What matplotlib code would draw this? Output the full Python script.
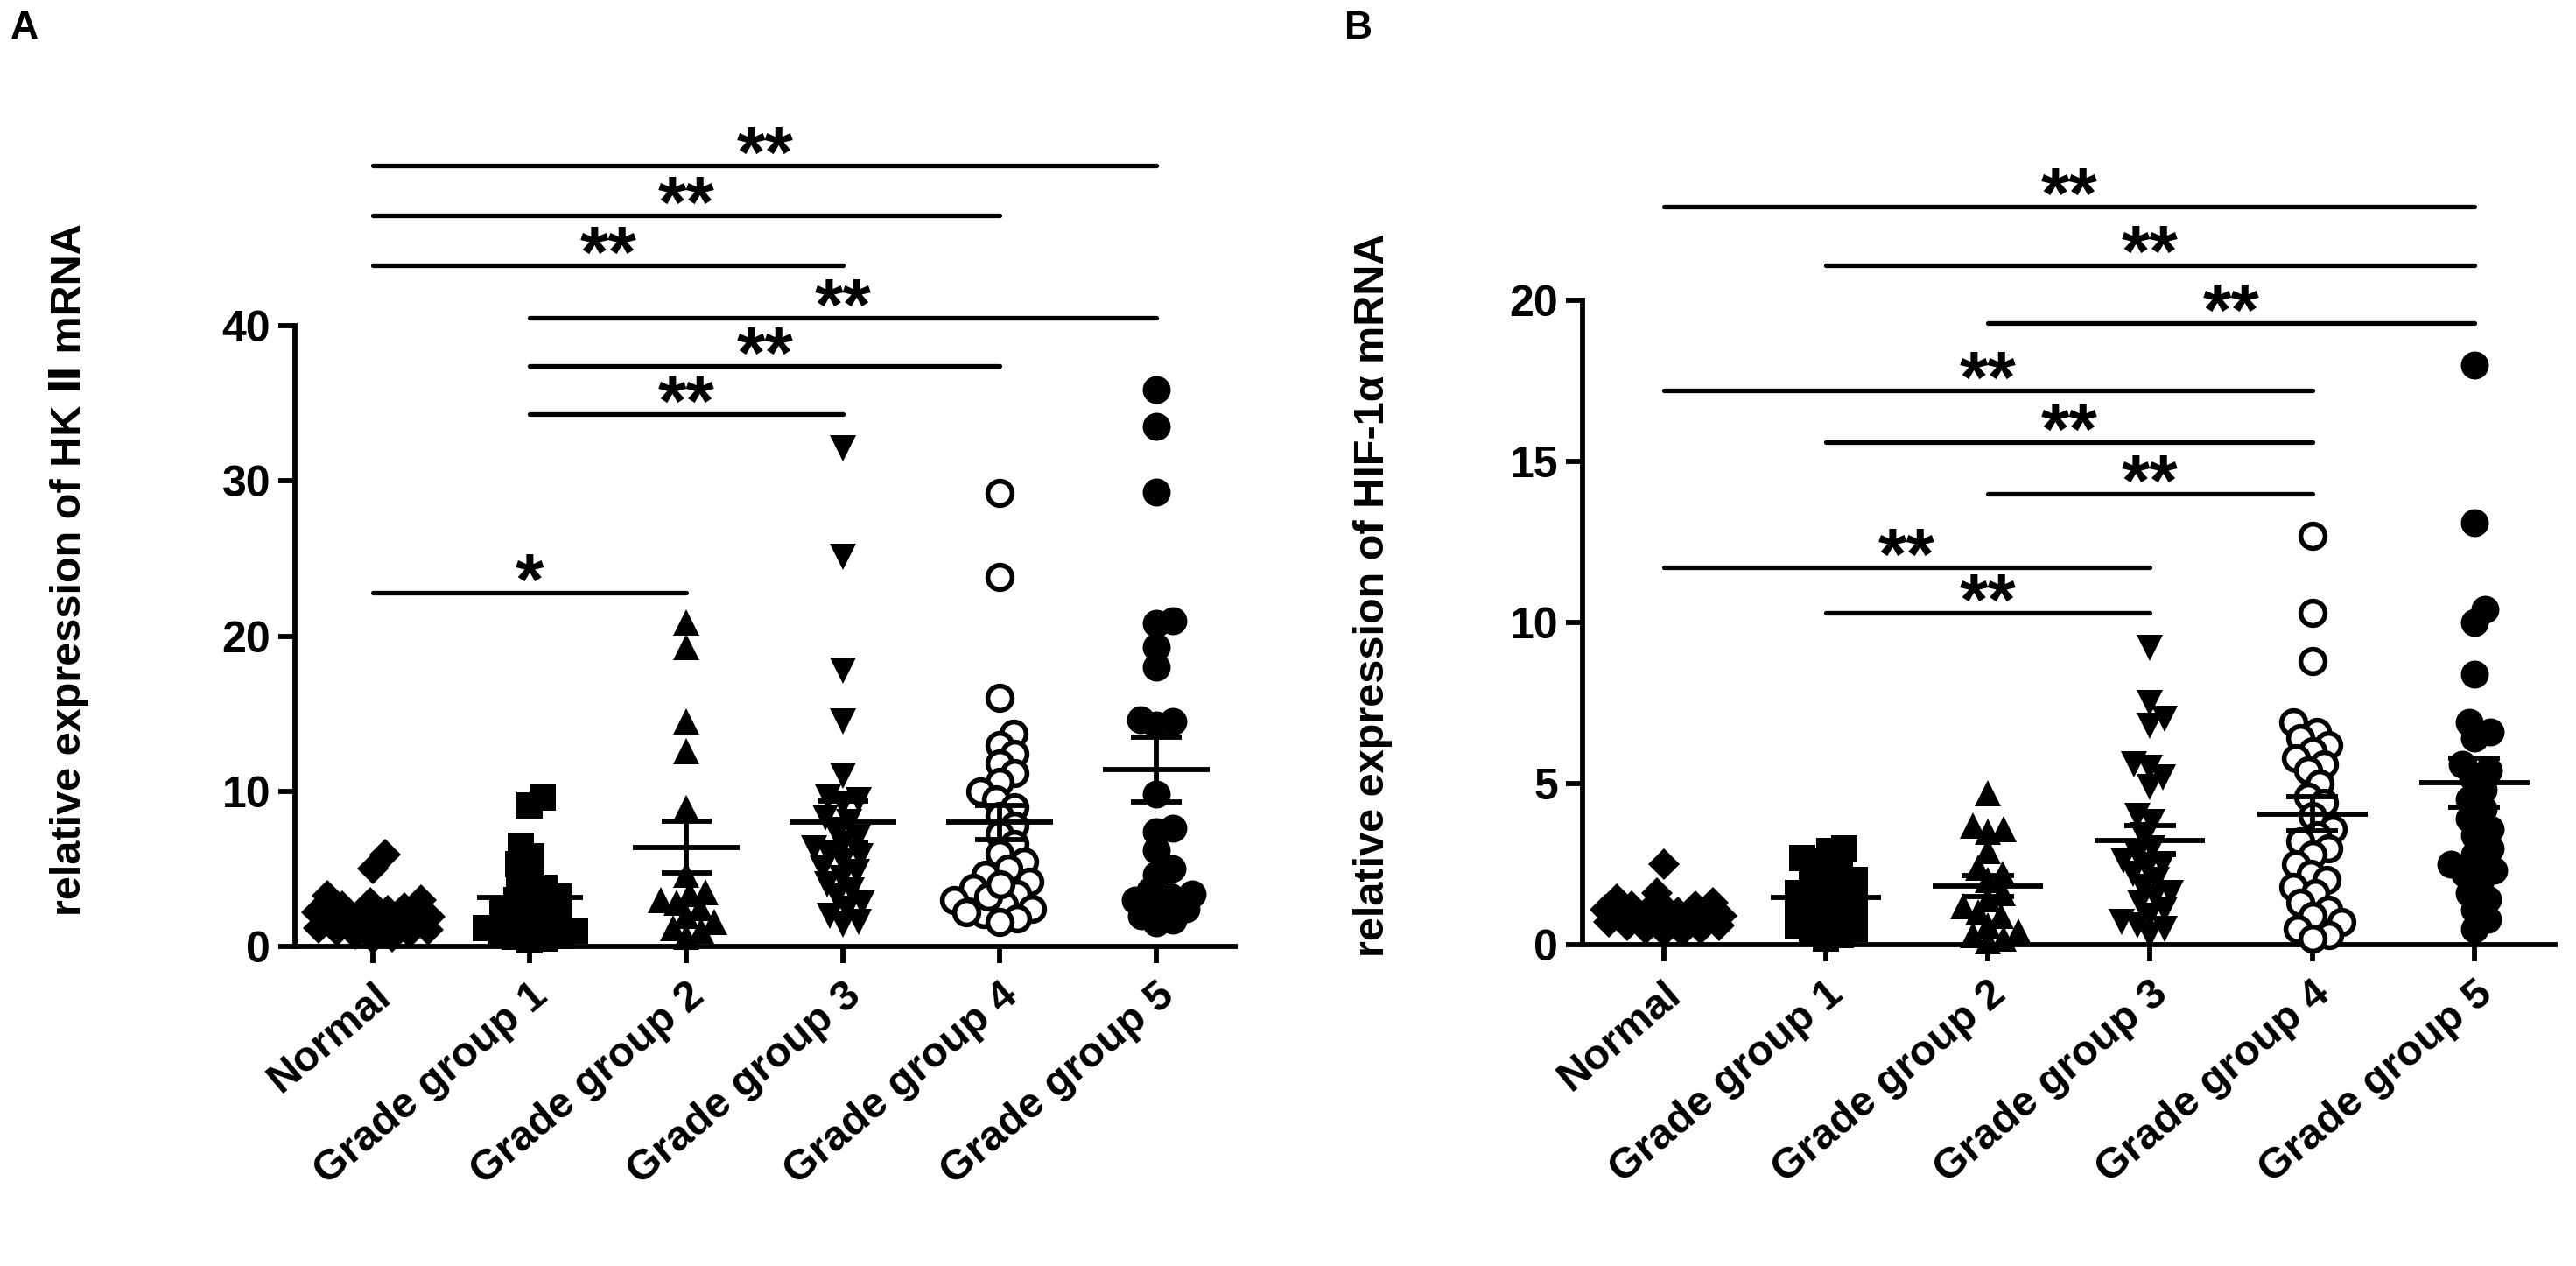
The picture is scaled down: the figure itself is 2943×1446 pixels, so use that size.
import numpy as np
import matplotlib
matplotlib.use("Agg")
import matplotlib.pyplot as plt
from matplotlib.textpath import TextPath
from matplotlib.font_manager import FontProperties

plt.rcParams['font.family'] = ['Liberation Sans', 'DejaVu Sans']
plt.rcParams['font.weight'] = 'bold'

# ---------------- data ----------------
categories = ["Normal", "Grade group 1", "Grade group 2",
              "Grade group 3", "Grade group 4", "Grade group 5"]

# Panel A: relative expression of HK II mRNA
hk2_normal = [5.9, 5.0, 3.3, 3.0, 2.8, 2.6, 2.5, 2.3, 2.2, 2.0, 1.9, 1.8,
              1.7, 1.6, 1.5, 1.4, 1.3, 1.2, 1.1, 1.0, 0.9, 0.8, 0.6, 0.5]
hk2_g1 = [9.6, 9.1, 6.5, 5.8, 5.3, 4.8, 4.2, 3.8, 3.5, 3.0, 2.8, 2.5, 2.3,
          2.0, 1.8, 1.6, 1.4, 1.2, 1.0, 0.9, 0.7, 0.6, 0.5, 0.4, 3.2]
hk2_g2 = [20.9, 19.3, 14.5, 12.6, 8.9, 4.6, 3.5, 3.4, 3.0, 2.8, 2.5, 2.0,
          1.6, 1.2, 1.0, 0.6]
hk2_g3 = [32.1, 25.1, 17.8, 14.5, 11.0, 9.6, 9.4, 9.2, 8.3, 8.0, 7.5, 7.0,
          6.6, 6.0, 5.5, 5.0, 4.8, 4.4, 4.0, 3.6, 3.2, 2.8, 2.4, 2.0, 1.6,
          1.4, 5.8, 6.3]
hk2_g4 = [29.2, 23.8, 16.0, 13.7, 13.0, 12.4, 11.8, 11.2, 10.6, 10.0, 9.5,
          9.0, 8.4, 7.8, 7.2, 6.6, 6.0, 5.5, 5.0, 4.6, 4.2, 3.8, 3.4, 3.0,
          2.7, 2.4, 2.1, 1.8, 1.6, 2.2, 3.2, 4.0]
hk2_g5 = [35.9, 33.5, 29.3, 21.0, 20.8, 19.3, 18.0, 14.6, 14.5, 14.3, 9.8,
          7.6, 7.4, 6.2, 5.0, 4.6, 3.6, 3.4, 3.2, 3.0, 2.6, 2.4, 1.7, 1.5, 2.0]
hk2_groups = [hk2_normal, hk2_g1, hk2_g2, hk2_g3, hk2_g4, hk2_g5]
hk2_yticks = [0, 10, 20, 30, 40]
hk2_comparisons = [(0, 5, "**"), (0, 4, "**"), (0, 3, "**"), (1, 5, "**"),
                   (1, 4, "**"), (1, 3, "**"), (0, 2, "*")]
hk2_levels = [50.3, 47.1, 43.9, 40.5, 37.4, 34.3, 22.8]
hk2_ylabel = "relative expression of HK \u2161 mRNA"

# Panel B: relative expression of HIF-1a mRNA
hif_normal = [2.5, 1.6, 1.4, 1.3, 1.2, 1.1, 1.0, 1.0, 0.9, 0.9, 0.8, 0.8,
              0.7, 0.7, 0.6, 0.6, 0.5, 0.5, 0.4, 0.4, 0.9, 1.1, 0.8, 1.2]
hif_g1 = [3.0, 2.9, 2.7, 2.6, 2.4, 2.2, 2.0, 1.9, 1.7, 1.6, 1.5, 1.4, 1.3,
          1.2, 1.0, 0.9, 0.8, 0.7, 0.6, 0.5, 0.4, 0.3, 0.2, 1.1, 1.8]
hif_g2 = [4.7, 3.7, 3.6, 3.5, 2.9, 2.4, 2.2, 2.0, 1.6, 1.4, 1.2, 1.0, 0.9,
          0.6, 0.4, 0.3, 0.2, 0.1]
hif_g3 = [9.2, 7.5, 7.0, 6.8, 5.6, 5.5, 5.2, 4.9, 4.0, 3.8, 3.4, 3.0, 2.8,
          2.6, 2.5, 2.4, 2.2, 2.0, 1.8, 1.6, 1.5, 1.3, 1.1, 0.9, 0.7, 0.6,
          0.5, 0.3]
hif_g4 = [12.7, 10.3, 8.8, 6.9, 6.6, 6.4, 6.2, 6.0, 5.8, 5.6, 5.4, 5.0, 4.6,
          4.4, 4.0, 3.6, 3.4, 3.2, 3.0, 2.8, 2.5, 2.2, 2.0, 1.8, 1.6, 1.3,
          1.1, 0.9, 0.7, 0.5, 0.3, 0.2]
hif_g5 = [18.0, 13.1, 10.4, 10.0, 8.4, 6.9, 6.6, 6.4, 5.6, 5.4, 5.2, 4.8,
          4.5, 4.2, 3.9, 3.6, 3.4, 3.0, 2.8, 2.5, 2.3, 2.2, 2.0, 1.6, 1.4,
          1.1, 0.8, 0.5]
hif_groups = [hif_normal, hif_g1, hif_g2, hif_g3, hif_g4, hif_g5]
hif_yticks = [0, 5, 10, 15, 20]
hif_comparisons = [(0, 5, "**"), (1, 5, "**"), (2, 5, "**"), (0, 4, "**"),
                   (1, 4, "**"), (2, 4, "**"), (0, 3, "**"), (1, 3, "**")]
hif_levels = [22.9, 21.1, 19.3, 17.2, 15.6, 14.0, 11.7, 10.3]
hif_ylabel = "relative expression of HIF-1\u03b1 mRNA"

# ---------------- style ----------------
DPI = 100
PT = DPI / 72.0
# marker, markersize(pt), facecolor, edgewidth(pt), ink diameter(px)
marker_styles = [
    ("D", 18, "black", 0.0, 18 * 1.414 * PT),
    ("s", 21, "black", 0.0, 21 * PT),
    ("^", 22, "black", 0.0, 22 * PT),
    ("v", 22, "black", 0.0, 22 * PT),
    ("o", 20, "white", 4.0, 24 * PT),
    ("o", 23, "black", 0.0, 23 * PT),
]
LW = 4.2
STAR_SIZE = 60
STAR_FONT = FontProperties(family="Liberation Sans", weight="bold")

fig = plt.figure(figsize=(29.43, 14.46), dpi=DPI)


def swarm(yvals, ypx, xpx, d, max_half):
    yvals = np.asarray(yvals, float)
    order = np.argsort(yvals)
    placed = []
    offs = np.zeros(len(yvals))
    for i in order:
        y = yvals[i] * ypx
        cands = [0.0]
        for (px, py) in placed:
            dy = y - py
            if abs(dy) < d:
                dx = np.sqrt(d * d - dy * dy)
                cands += [px + dx, px - dx]
        cands = sorted(cands, key=lambda c: (abs(c), -c))
        chosen = None
        for c in cands:
            if abs(c) > max_half:
                continue
            if all((c - px) ** 2 + (y - py) ** 2 >= d * d - 1e-6 for px, py in placed):
                chosen = c
                break
        if chosen is None:
            grid = np.linspace(-max_half, max_half, 41)
            chosen = max(grid, key=lambda c: min([(c - px) ** 2 + (y - py) ** 2
                                                  for px, py in placed] + [1e9]))
        placed.append((chosen, y))
        offs[i] = chosen / xpx
    return offs


def draw_panel(rect, groups, ylim, yticks, comparisons, levels):
    ax = fig.add_axes(rect)
    ax.set_xlim(-0.5, 5.5)
    ax.set_ylim(*ylim)
    for s in ["top", "right"]:
        ax.spines[s].set_visible(False)
    for s in ["left", "bottom"]:
        ax.spines[s].set_linewidth(LW)
    ax.set_yticks(yticks)
    ax.set_xticks(range(len(categories)))
    ax.set_xticklabels(categories, rotation=40, ha="right", va="top",
                       rotation_mode="anchor", fontsize=35, fontweight="bold")
    ax.tick_params(axis="y", length=14, width=LW, labelsize=36, pad=6)
    ax.tick_params(axis="x", length=14, width=LW, pad=10)
    for lab in ax.get_yticklabels():
        lab.set_fontweight("bold")

    t0 = ax.transData.transform((0, 0))
    t1 = ax.transData.transform((1, 1))
    xpx = t1[0] - t0[0]
    ypx = t1[1] - t0[1]

    for i, vals in enumerate(groups):
        mk, ms, fc, mew, diam = marker_styles[i]
        offs = swarm(vals, ypx, xpx, 0.6 * diam, 0.36 * xpx)
        ax.plot(i + offs, vals, linestyle="none", marker=mk, markersize=ms,
                markerfacecolor=fc, markeredgecolor="black",
                markeredgewidth=mew, clip_on=False, zorder=3)
        v = np.asarray(vals, float)
        m = v.mean()
        se = v.std(ddof=1) / np.sqrt(len(v))
        kw = dict(color="black", lw=LW, zorder=5, solid_capstyle="butt", clip_on=False)
        ax.plot([i - 0.34, i + 0.34], [m, m], **kw)
        ax.plot([i, i], [m - se, m + se], **kw)
        ax.plot([i - 0.16, i + 0.16], [m + se, m + se], **kw)
        ax.plot([i - 0.16, i + 0.16], [m - se, m - se], **kw)

    for (a, b, txt), lvl in zip(comparisons, levels):
        ax.plot([a, b], [lvl, lvl], color="black", lw=3.8, clip_on=False,
                solid_capstyle="round", zorder=4)
        tp = TextPath((0, 0), txt, size=STAR_SIZE, prop=STAR_FONT)
        ink_bottom = tp.get_extents().y0
        gap_pt = 9.0
        ax.annotate(txt, xy=((a + b) / 2.0, lvl),
                    xytext=(0, gap_pt - ink_bottom), textcoords="offset points",
                    ha="center", va="baseline", fontsize=STAR_SIZE,
                    fontproperties=STAR_FONT, annotation_clip=False)
    return ax


axA = draw_panel([0.1145, 0.2524, 0.3648, 0.4903], hk2_groups, (0, 40),
                 hk2_yticks, hk2_comparisons, hk2_levels)
axB = draw_panel([0.6143, 0.2538, 0.3777, 0.5090], hif_groups, (0, 20),
                 hif_yticks, hif_comparisons, hif_levels)

fig.text(0.027, 0.55, hk2_ylabel, rotation=90, ha="center", va="center",
         fontsize=35, fontweight="bold")
fig.text(0.533, 0.53, hif_ylabel, rotation=90, ha="center", va="center",
         fontsize=35, fontweight="bold")
fig.text(0.004, 0.992, "A", ha="left", va="top", fontsize=32, fontweight="bold")
fig.text(0.522, 0.992, "B", ha="left", va="top", fontsize=32, fontweight="bold")

fig.savefig("out.png", dpi=DPI, facecolor="white")
